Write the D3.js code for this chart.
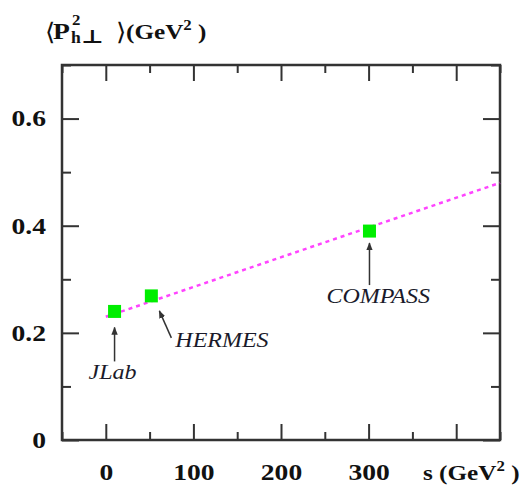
<!DOCTYPE html>
<html>
<head>
<meta charset="utf-8">
<script src="https://cdn.jsdelivr.net/npm/d3@7"></script>
<style>
body { margin: 0; background: #fff; }
svg { display: block; }
</style>
</head>
<body>
<div id="root"></div>
<script>
// data
var experiments = ["JLab", "HERMES", "COMPASS"];
var sValues = [10, 52, 301];
var pt2Values = [0.24, 0.269, 0.39];
var fitS = [0, 450];
var fitPt2 = [0.23, 0.48];
var xMajor = [0, 100, 200, 300, 400];
var xLabelled = [0, 100, 200, 300];
var xMinor = [-50, 50, 150, 250, 350, 450];
var yMajor = [0, 0.2, 0.4, 0.6];
var yMinor = [0.1, 0.3, 0.5, 0.7];

var W = 528, H = 485;
var mLeft = 62, mRight = 500, mTop = 65, mBottom = 440;
var serif = "'Liberation Serif', 'DejaVu Serif', serif";
var SX = 1.2; // the original glyphs are a bit wide

var svg = d3.select("#root").append("svg")
    .attr("width", W)
    .attr("height", H)
    .style("font-family", serif);

var x = d3.scaleLinear().domain([-50, 450]).range([mLeft, mRight]);
var y = d3.scaleLinear().domain([0, 0.7]).range([mBottom, mTop]);

var axisCol = "#333";

function styleAxis(g) {
    g.attr("font-family", serif);
    g.select(".domain").remove();
    g.selectAll(".tick line").attr("stroke", axisCol).attr("stroke-width", 2);
    g.selectAll("text")
        .attr("fill", "#111")
        .style("font-size", "23px")
        .style("font-weight", "bold")
        .each(function() {
            var t = d3.select(this);
            var tx = +(t.attr("x") || 0);
            t.attr("x", tx / SX).attr("transform", "scale(" + SX + ",1)");
        });
}

// major ticks + labels
svg.append("g").attr("transform", "translate(0," + mBottom + ")")
    .call(d3.axisBottom(x).tickValues(xMajor).tickSize(-16).tickPadding(24)
        .tickFormat(function(d) { return xLabelled.indexOf(d) >= 0 ? d3.format("d")(d) : ""; }))
    .call(styleAxis);
svg.append("g").attr("transform", "translate(" + mLeft + ",0)")
    .call(d3.axisLeft(y).tickValues(yMajor).tickSize(-17).tickPadding(16)
        .tickFormat(function(d) { return d === 0 ? "0" : d3.format(".1f")(d); }))
    .call(styleAxis);
// top / right ticks, no labels
svg.append("g").attr("transform", "translate(0," + mTop + ")")
    .call(d3.axisTop(x).tickValues(xMajor).tickSize(-16).tickFormat(""))
    .call(styleAxis);
svg.append("g").attr("transform", "translate(" + mRight + ",0)")
    .call(d3.axisRight(y).tickValues(yMajor).tickSize(-17).tickFormat(""))
    .call(styleAxis);
// minor ticks
svg.append("g").attr("transform", "translate(0," + mBottom + ")")
    .call(d3.axisBottom(x).tickValues(xMinor).tickSize(-8).tickFormat(""))
    .call(styleAxis);
svg.append("g").attr("transform", "translate(0," + mTop + ")")
    .call(d3.axisTop(x).tickValues(xMinor).tickSize(-8).tickFormat(""))
    .call(styleAxis);
svg.append("g").attr("transform", "translate(" + mLeft + ",0)")
    .call(d3.axisLeft(y).tickValues(yMinor).tickSize(-9).tickFormat(""))
    .call(styleAxis);
svg.append("g").attr("transform", "translate(" + mRight + ",0)")
    .call(d3.axisRight(y).tickValues(yMinor).tickSize(-9).tickFormat(""))
    .call(styleAxis);

// frame
svg.append("rect")
    .attr("x", mLeft).attr("y", mTop)
    .attr("width", mRight - mLeft).attr("height", mBottom - mTop)
    .attr("fill", "none").attr("stroke", axisCol).attr("stroke-width", 2.5);

// fit line
svg.append("line")
    .attr("x1", x(fitS[0])).attr("y1", y(fitPt2[0]))
    .attr("x2", x(fitS[1])).attr("y2", y(fitPt2[1]))
    .attr("stroke", "#ff44ff").attr("stroke-width", 2.5)
    .attr("stroke-dasharray", "4,4");

// points
var pts = experiments.map(function(n, i) { return { name: n, s: sValues[i], v: pt2Values[i] }; });
var sq = 13;
svg.selectAll("rect.pt").data(pts).enter().append("rect")
    .attr("class", "pt")
    .attr("x", function(d) { return x(d.s) - sq / 2; })
    .attr("y", function(d) { return y(d.v) - sq / 2; })
    .attr("width", sq).attr("height", sq)
    .attr("fill", "#00ee00");

// arrows + labels (offsets in px from the point)
svg.append("defs").append("marker")
    .attr("id", "ah").attr("viewBox", "0 0 10 10")
    .attr("refX", 9).attr("refY", 5)
    .attr("markerWidth", 8).attr("markerHeight", 8)
    .attr("markerUnits", "userSpaceOnUse")
    .attr("orient", "auto")
    .append("path").attr("d", "M0,1 L10,5 L0,9 Z").attr("fill", "#333");

var notes = [
    { dx0: 0, dy0: 50, dx1: 0, dy1: 16, tx: -26, ty: 68 },
    { dx0: 20, dy0: 42, dx1: 8, dy1: 15, tx: 24, ty: 51 },
    { dx0: 0, dy0: 54, dx1: 0, dy1: 12, tx: -43, ty: 72 }
];
svg.selectAll("line.arr").data(pts).enter().append("line")
    .attr("class", "arr")
    .attr("x1", function(d, i) { return x(d.s) + notes[i].dx0; })
    .attr("y1", function(d, i) { return y(d.v) + notes[i].dy0; })
    .attr("x2", function(d, i) { return x(d.s) + notes[i].dx1; })
    .attr("y2", function(d, i) { return y(d.v) + notes[i].dy1; })
    .attr("stroke", "#333").attr("stroke-width", 1.5)
    .attr("marker-end", "url(#ah)");
svg.selectAll("text.lab").data(pts).enter().append("text")
    .attr("class", "lab")
    .attr("transform", function(d, i) {
        return "translate(" + (x(d.s) + notes[i].tx) + "," + (y(d.v) + notes[i].ty) + ") scale(1.2,1)";
    })
    .attr("font-style", "italic")
    .attr("font-size", 20)
    .attr("fill", "#1a1a2a")
    .text(function(d) { return d.name; });

// stretched text helper
function put(parent, px, py, size, str, bold, sx) {
    return parent.append("text")
        .attr("transform", "translate(" + px + "," + py + ") scale(" + (sx || SX) + ",1)")
        .attr("font-size", size)
        .attr("font-weight", bold ? "bold" : "normal")
        .text(str);
}

// y title: <P^2_{h⊥}> (GeV^2)
var yt = svg.append("g").attr("fill", "#111");
put(yt, 45, 40, 24, "\u27E8", false, 1.1);
put(yt, 53, 39, 24, "P", true, 1.15);
put(yt, 72, 25, 14, "2", true, 1.2);
put(yt, 71, 43, 16, "h", true, 1.1);
put(yt, 81, 43, 19, "\u22A5", true, 1.25);
put(yt, 116, 40, 24, "\u27E9", false, 1.1);
var g1 = put(yt, 126, 39, 21, "", true);
g1.append("tspan").text("(GeV");
g1.append("tspan").attr("dy", -9).attr("font-size", 14).text("2");
g1.append("tspan").attr("dy", 9).text(" )");

// x title: s (GeV^2)
var xt = put(svg, 423, 480, 21, "", true).attr("fill", "#111");
xt.append("tspan").text("s (GeV");
xt.append("tspan").attr("dy", -9).attr("font-size", 14).text("2");
xt.append("tspan").attr("dy", 9).text(" )");
</script>
</body>
</html>
